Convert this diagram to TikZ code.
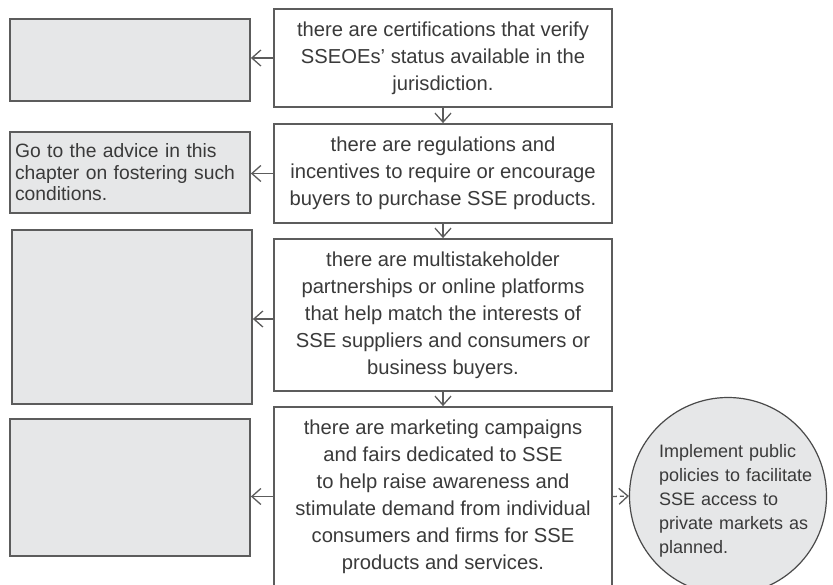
\documentclass[tikz,border=0pt]{standalone}
\usepackage{fontspec}
\setmainfont{Liberation Sans}
\usetikzlibrary{arrows.meta,positioning}

\definecolor{boxgray}{HTML}{E6E7E8}
\definecolor{linegray}{HTML}{5C5C5C}
\definecolor{textgray}{HTML}{3A3A3A}

\tikzset{
  condbox/.style={draw=linegray, line width=1.8pt, fill=white, text=textgray,
    align=center, minimum width=338pt, inner sep=0pt,
    font=\fontsize{20.2}{27}\selectfont},
  advbox/.style={draw=linegray, line width=1.8pt, fill=boxgray, text=textgray,
    align=left, text width=230pt, inner xsep=5pt, inner ysep=0pt,
    font=\fontsize{19.3}{21.5}\selectfont},
  goalcirc/.style={circle, draw=linegray!80!black, line width=1.2pt, fill=boxgray,
    minimum size=197pt, inner sep=0pt},
  goaltext/.style={text=textgray, align=left, text width=160pt, inner sep=0pt,
    font=\fontsize{18}{24}\selectfont},
  arr/.style={draw=linegray, line width=1.3pt,
    -{Straight Barb[length=9pt,width=16pt,line width=1.3pt]}},
}

\begin{document}
\begin{tikzpicture}[x=1pt,y=-1pt]
\useasboundingbox (0,0) rectangle (833,585);

\node[condbox, minimum height=98pt] (c1) at (443,58)
  {there are certifications that verify\\ SSEOEs' status available in the\\ jurisdiction.};
\node[condbox, minimum height=99pt] (c2) at (443,173.5)
  {there are regulations and\\ incentives to require or encourage\\ buyers to purchase SSE products.};
\node[condbox, minimum height=152pt] (c3) at (443,315)
  {there are multistakeholder\\ partnerships or online platforms\\ that help match the interests of\\ SSE suppliers and consumers or\\ business buyers.};
\node[condbox, minimum height=179pt] (c4) at (443,496.5)
  {there are marketing campaigns\\ and fairs dedicated to SSE\\ to help raise awareness and\\ stimulate demand from individual\\ consumers and firms for SSE\\ products and services.};

\node[advbox, minimum height=82pt] (a1) at (130,60) {};
\node[advbox, minimum height=81pt] (a2) at (130,172.5)
  {Go to the advice in this\\ chapter on fostering such\\ conditions.};
\node[advbox, minimum height=174pt] (a3) at (132,317) {};
\node[advbox, minimum height=137pt] (a4) at (130,487.5) {};

\node[goalcirc, label={[goaltext, xshift=11pt, yshift=-5pt]center:{Implement public\\ policies to facilitate\\ SSE access to\\ private markets as\\ planned.}}] (goal) at (728,496) {};

\draw[arr] (c1) -- (c2);
\draw[arr] (c2) -- (c3);
\draw[arr] (c3) -- (c4);

\draw[arr] (c1.west) -- (c1.west -| a1.east);
\draw[arr] (c2.west) -- (c2.west -| a2.east);
\draw[arr] ([yshift=-4pt]c3.west) -- ([yshift=-4pt]c3.west -| a3.east);
\draw[arr] (c4.west) -- (c4.west -| a4.east);
\draw[arr, dash pattern=on 4pt off 3pt] (c4.east) -- (goal.west);
\end{tikzpicture}
\end{document}
